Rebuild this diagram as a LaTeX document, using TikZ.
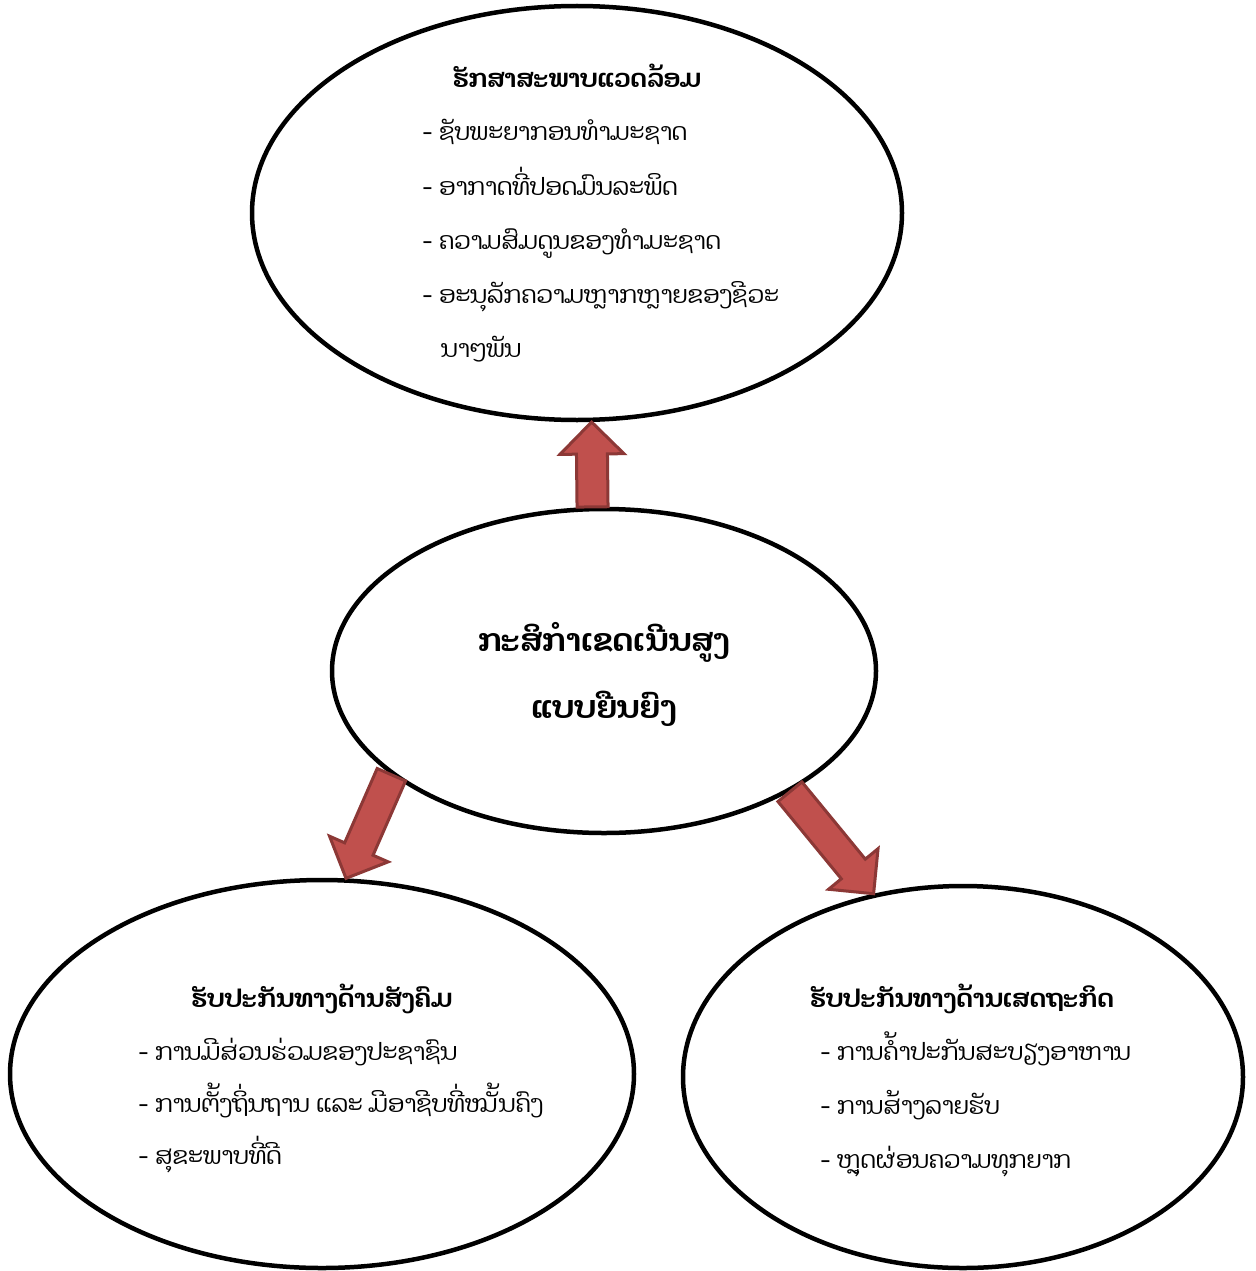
\documentclass[tikz,border=0pt]{standalone}
\usepackage{fontspec}
\newfontfamily\laofont[Script=Lao]{Dhyana}
\usetikzlibrary{shapes.geometric,calc}
\definecolor{arrowfill}{HTML}{C0504D}
\definecolor{arrowline}{HTML}{8C3836}
% fat block arrow from #1 (tail) to #2 (tip)
\newcommand\blockarrow[2]{%
  \coordinate (hb) at ($(#2)!32pt!(#1)$);
  \filldraw[arrowfill, draw=arrowline, line width=3pt, line join=miter]
    ($(#1)!15.5pt!90:(#2)$) -- ($(hb)!15.5pt!90:(#2)$) -- ($(hb)!32pt!90:(#2)$) -- (#2)
    -- ($(hb)!32pt!-90:(#2)$) -- ($(hb)!15.5pt!-90:(#2)$) -- ($(#1)!15.5pt!-90:(#2)$) -- cycle;}
\begin{document}
\begin{tikzpicture}[x=1pt, y=-1pt, line cap=round, line join=round]
\tikzset{bubble/.style={draw, ellipse, line width=4.5pt, inner sep=0pt},
  title/.style={anchor=base, font=\laofont\bfseries\fontsize{25}{30}\selectfont},
  item/.style={anchor=base west, inner sep=0pt, font=\laofont\fontsize{24}{30}\selectfont}}
\useasboundingbox (0,0) rectangle (1255,1271);
% the four bubbles
\node[bubble, minimum width=650pt, minimum height=414pt] (env) at (577,213) {};
\node[bubble, minimum width=544pt, minimum height=324pt] (hub) at (604,671) {};
\node[bubble, minimum width=624pt, minimum height=388pt] (soc) at (322,1074) {};
\node[bubble, minimum width=560pt, minimum height=382pt] (eco) at (963,1077) {};
% centre text
\node[title, font=\laofont\bfseries\fontsize{31.5}{36}\selectfont] (hub1) at (604,651) {ກະສິກຳເຂດເນີນສູງ};
\node[title, font=\laofont\bfseries\fontsize{31.5}{36}\selectfont] (hub2) at (604,718) {ແບບຍືນຍົງ};
% environment
\node[title] (envt) at (577,88) {ຮັກສາສະພາບແວດລ້ອມ};
\foreach \t [count=\i] in {ຊັບພະຍາກອນທຳມະຊາດ, ອາກາດທີ່ປອດມົນລະພິດ, ຄວາມສົມດູນຂອງທຳມະຊາດ, ອະນຸລັກຄວາມຫຼາກຫຼາຍຂອງຊີວະ}
  \node[item] (env\i) at (422,87+54*\i) {- \t};
\node[item] (env5) at (441,357) {ນາໆພັນ};
% social
\node[title] (soct) at (322,1007) {ຮັບປະກັນທາງດ້ານສັງຄົມ};
\foreach \t [count=\i] in {ການມີສ່ວນຮ່ວມຂອງປະຊາຊົນ, ການຕັ້ງຖິ່ນຖານ ແລະ ມີອາຊີບທີ່ໝັ້ນຄົງ, ສຸຂະພາບທີ່ດີ}
  \node[item] (soc\i) at (138,1008+52*\i) {- \t};
% economy
\node[title] (ecot) at (962,1007) {ຮັບປະກັນທາງດ້ານເສດຖະກິດ};
\foreach \t [count=\i] in {ການຄ້ຳປະກັນສະບຽງອາຫານ, ການສ້າງລາຍຮັບ, ຫຼຸດຜ່ອນຄວາມທຸກຍາກ}
  \node[item] (eco\i) at (820,1006+54*\i) {- \t};
% arrows
\blockarrow{hub.94.4}{env.274}
\blockarrow{hub.206.6}{soc.83.9}
\blockarrow{hub.327.8}{eco.116.2}
\end{tikzpicture}
\end{document}
